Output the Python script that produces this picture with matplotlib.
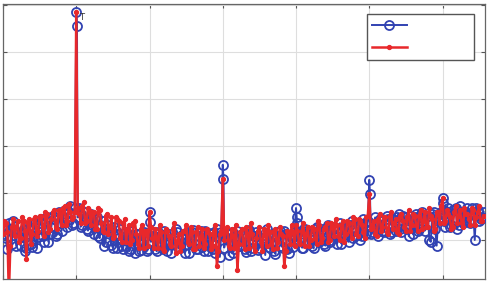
"""
Two noisy spectra-like series (blue circles, red dots) with harmonic spikes.
Saves out.png (490x282).
"""

import matplotlib
matplotlib.use("Agg")
import matplotlib.pyplot as plt
from matplotlib.lines import Line2D
import numpy as np

# sample positions: even grid (0, 4, 8, ...) and the in-between grid (2, 6, ...)
X_EVEN = np.arange(0, 660, 4)
X_ODD = np.arange(2, 658, 4)

BLUE_EVEN = [
    14, 2, 18, -4, 10, 16, -6, 12, -8, 6,
    -7, 18, 3, 22, -2, 24, 6, 26, 4, 30,
    10, 32, 14, 36, 18, 243, 34, 16, 30, 10,
    28, 6, 24, 2, 20, -2, 16, -5, 14, -8,
    12, -10, 8, -12, 10, -14, 6, -11, 8, -12,
    30, 4, -10, 8, -6, 10, -12, 6, -4, 12,
    -9, 5, -14, 9, -3, 11, -10, 4, -7, 10,
    -12, 7, -5, 12, -18, 80, 2, -16, 8, -10,
    10, -6, 6, -13, 11, -8, 4, -11, 9, -4,
    12, -9, 6, -15, 8, -6, 10, -10, 5, -7,
    34, 8, -8, 12, -4, 10, -9, 14, -2, 12,
    -6, 16, 0, 14, -4, 18, 2, 16, -2, 20,
    4, 18, 0, 22, 6, 64, 8, 24, 4, 20,
    8, 26, 6, 22, 10, 28, 8, 24, 12, 26,
    6, 28, 12, 30, 10, 26, -2, 30, -6, 28,
    45, 14, 34, 16, 32, 12, 36, 18, 30, 20,
    34, 0, 32, 22, 30,
]

BLUE_ODD = [
    6, -10, 12, 20, -6, 2, 16, -12, 12, -4,
    14, -8, 18, 4, 20, -2, 14, 22, 6, 18,
    24, 28, 30, 16, 34, 24, 14, 30, 12, 22,
    16, 22, 4, 14, -6, 12, 8, -8, 6, 2,
    -6, 8, 4, -10, 2, 6, -12, -4, 4, -10,
    -2, 8, -12, 4, -10, 6, -4, -14, 2, 8,
    -8, 2, 6, -14, 8, -4, -10, 10, -12, 4,
    6, -10, -14, 4, 8, -8, 2, 6, -14, 4,
    -6, 6, -10, 10, -12, 4, 8, -8, 2, -16,
    6, -4, -12, 4, 10, -8, 6, -14, 2, 8,
    -2, 6, -8, 10, 4, -6, 12, 0, 10, -4,
    8, -2, 14, 4, 12, -4, 14, 8, 16, 2,
    12, 16, 4, 18, 20, 6, 16, 8, 22, 10,
    18, 22, 8, 20, 24, 12, 26, 14, 4, 22,
    24, 10, 28, 16, 24, 0, 28, 12, 22, 30,
    20, 30, 14, 32, 34, 16, 30, 20, 34, 18,
    30, 34, 20, 24,
]

# second/third circles sitting on the spikes
BLUE_EXTRA_X = [101, 201, 301, 401, 402, 501, 601, 602]
BLUE_EXTRA = [228, 19, 65, 24, 18, 49, 39, 32]

RED_EVEN = [
    6, 18, -60, 14, 4, 20, 2, 20, -20, 22,
    6, 24, 10, 26, 4, 28, 12, 30, 14, 32,
    16, 36, 20, 30, 24, 243, 28, 36, 18, 34,
    16, 30, 12, 32, 10, 26, 6, 24, 4, 22,
    2, 18, -2, 16, 0, 20, -4, 12, -8, 10,
    30, 2, 12, -8, 8, -12, 10, -4, 12, -14,
    6, -6, 10, -2, 14, -10, 8, -6, 12, -4,
    8, -10, 10, -28, 6, 65, 10, -6, 12, -8,
    -32, 8, -4, 14, -8, 6, -12, 10, -2, 12,
    -6, 8, -10, 12, -2, 6, -28, 10, -4, 8,
    16, -2, 10, -6, 14, 0, 12, -4, 16, 2,
    14, -2, 18, 4, 16, 0, 20, 6, 18, 2,
    22, 4, 20, 8, 24, 49, 14, 6, 22, 10,
    24, 8, 26, 12, 22, 6, 28, 14, 24, 10,
    28, 16, 26, 12, 30, 14, 26, 10, 30, 18,
    45, 20, 28, 12, 30, 18, 32, 14, 28, 22,
    34, 16, 30, 20, 26,
]

RED_ODD = [
    20, 8, -6, 22, 14, -2, 24, 10, 18, -4,
    22, 4, 26, 14, 30, 8, 22, 32, 12, 28,
    34, 16, 38, 22, 30, 34, 18, 40, 20, 32,
    30, 12, 34, 18, 8, 28, 14, 2, 24, 20,
    -2, 22, 12, -4, 18, 6, -8, 16, 10, -6,
    14, -8, 2, 16, -10, 12, 4, -6, 18, -2,
    -12, 10, 16, -4, 8, -10, 14, 2, -8, 12,
    6, -6, 16, -12, 10, 0, 14, -8, 4, 16,
    -4, 12, -10, 6, 18, -6, 2, 14, -12, 8,
    16, -4, 10, -8, 14, 4, -12, 8, 16, -6,
    10, -4, 18, 6, -6, 14, 2, 20, -2, 12,
    18, 0, 14, 22, 4, 16, -2, 20, 10, 24,
    6, 22, 16, 2, 26, 12, 20, 4, 28, 14,
    24, 6, 30, 18, 8, 26, 20, 10, 32, 16,
    26, 10, 32, 20, 14, 34, 22, 12, 30, 36,
    18, 32, 24, 14, 36, 26, 18, 34, 28, 16,
    32, 24, 36, 20,
]

X_TICKS = [0, 100, 200, 300, 400, 500, 600]
Y_TICKS = [0, 50, 100, 150, 200, 250]

BLUE_C = "#3142b2"
RED_C = "#e8282b"


def merge(xs_list, ys_list):
    xs = np.concatenate(xs_list)
    ys = np.concatenate(ys_list)
    order = np.argsort(xs, kind="stable")
    return xs[order], ys[order]


def main():
    bx, by = merge([X_EVEN, X_ODD, BLUE_EXTRA_X], [BLUE_EVEN, BLUE_ODD, BLUE_EXTRA])
    rx, ry = merge([X_EVEN, X_ODD], [RED_EVEN, RED_ODD])

    fig = plt.figure(figsize=(4.9, 2.82), dpi=100)
    ax = fig.add_axes([3 / 490, 3 / 282, 482 / 490, 275 / 282])

    ax.plot(bx, by, color=BLUE_C, linewidth=1.4, marker="o", markersize=6.5,
            markerfacecolor="none", markeredgewidth=1.3, zorder=3)
    ax.plot(rx, ry, color=RED_C, linewidth=1.8, marker="o", markersize=2.8,
            markerfacecolor=RED_C, markeredgecolor=RED_C, zorder=4)

    ax.text(107, 237, "T", fontsize=6, color="#333333", ha="center",
            va="center", zorder=5)

    ax.set_xlim(0, 658)
    ax.set_ylim(-41.5, 251)
    ax.set_xticks(X_TICKS)
    ax.set_yticks(Y_TICKS)
    ax.set_xticklabels([])
    ax.set_yticklabels([])
    ax.tick_params(direction="in", length=3, width=0.8, color="#555555",
                   top=True, right=True)
    ax.grid(True, color="#dedede", linewidth=0.8, zorder=0)
    ax.set_axisbelow(True)
    for sp in ax.spines.values():
        sp.set_color("#666666")
        sp.set_linewidth(0.9)

    handles = [
        Line2D([], [], color=BLUE_C, linewidth=1.4, marker="o", markersize=6.5,
               markerfacecolor="none", markeredgewidth=1.3),
        Line2D([], [], color=RED_C, linewidth=1.8, marker="o", markersize=2.8,
               markerfacecolor=RED_C),
    ]
    leg = ax.legend(handles, ["", ""], loc="upper left", mode="expand",
                    bbox_to_anchor=(0.755, 0.79, 0.222, 0.175),
                    borderaxespad=0, fontsize=10, handlelength=2.5,
                    handleheight=0.7, labelspacing=0.59, borderpad=0.37,
                    fancybox=False, framealpha=1, edgecolor="#555555",
                    numpoints=1)
    leg.get_frame().set_linewidth(1.0)

    fig.savefig("out.png", dpi=100)
    plt.close(fig)


if __name__ == "__main__":
    main()
